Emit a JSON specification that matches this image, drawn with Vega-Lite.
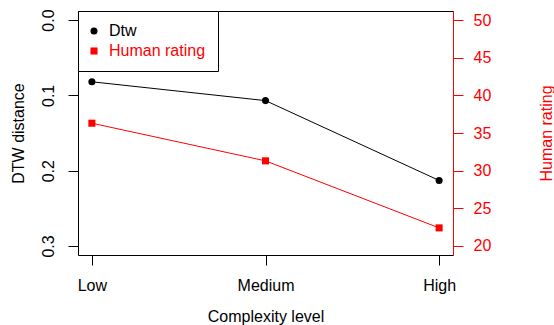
{
  "$schema": "https://vega.github.io/schema/vega-lite/v6.json",
  "width": 375,
  "height": 244,
  "autosize": "none",
  "padding": {"left": 78, "top": 11, "right": 101, "bottom": 70},
  "background": "white",
  "config": {
    "view": {"stroke": "black", "strokeWidth": 1},
    "font": "Liberation Sans",
    "axis": {
      "grid": false,
      "labelFont": "Liberation Sans",
      "titleFont": "Liberation Sans",
      "labelFontSize": 16,
      "titleFontSize": 16,
      "titleFontWeight": "normal",
      "tickSize": 10,
      "tickColor": "black",
      "labelColor": "black",
      "titleColor": "black",
      "domainColor": "black",
      "labelFlush": false,
      "labelOverlap": false,
      "labelBound": false
    },
    "legend": {
      "orient": "none",
      "legendX": 0,
      "legendY": 0,
      "title": null,
      "strokeColor": "black",
      "fillColor": "white",
      "padding": 12,
      "rowPadding": 4,
      "labelFont": "Liberation Sans",
      "labelFontSize": 16,
      "labelOffset": 7,
      "symbolOffset": -4,
      "symbolSize": 50,
      "symbolStrokeWidth": 0
    }
  },
  "data": {
    "values": [
      {"level": "Low", "series": "Dtw", "value": 0.082},
      {"level": "Medium", "series": "Dtw", "value": 0.107},
      {"level": "High", "series": "Dtw", "value": 0.213},
      {"level": "Low", "series": "Human rating", "value": 36.3},
      {"level": "Medium", "series": "Human rating", "value": 31.3},
      {"level": "High", "series": "Human rating", "value": 22.4}
    ]
  },
  "encoding": {
    "x": {
      "field": "level",
      "type": "ordinal",
      "sort": ["Low", "Medium", "High"],
      "scale": {"type": "point", "padding": 0.08},
      "axis": {"title": "Complexity level", "labelAngle": 0, "domain": false, "labelPadding": 12, "titlePadding": 15}
    }
  },
  "layer": [
    {
      "transform": [{"filter": "datum.series === 'Dtw'"}],
      "encoding": {
        "y": {
          "field": "value",
          "type": "quantitative",
          "scale": {"domain": [-0.012, 0.312], "reverse": true, "nice": false, "zero": false},
          "axis": {
            "orient": "left",
            "title": "DTW distance",
            "values": [0, 0.1, 0.2, 0.3],
            "format": ".1f",
            "labelAngle": 270,
            "labelPadding": 12,
            "domain": false,
            "titlePadding": 14
          }
        }
      },
      "layer": [
        {"mark": {"type": "line", "color": "black", "strokeWidth": 1}},
        {
          "mark": {"type": "point", "filled": true, "opacity": 1, "size": 50},
          "encoding": {
            "color": {
              "field": "series",
              "type": "nominal",
              "scale": {"domain": ["Dtw", "Human rating"], "range": ["black", "red"]},
              "legend": {
                "labelColor": {"expr": "datum.value === 'Dtw' ? 'black' : 'red'"}
              }
            },
            "shape": {
              "field": "series",
              "type": "nominal",
              "scale": {"domain": ["Dtw", "Human rating"], "range": ["circle", "square"]},
              "legend": {
                "labelColor": {"expr": "datum.value === 'Dtw' ? 'black' : 'red'"}
              }
            }
          }
        }
      ]
    },
    {
      "transform": [{"filter": "datum.series === 'Human rating'"}],
      "encoding": {
        "y": {
          "field": "value",
          "type": "quantitative",
          "scale": {"domain": [18.8, 51.2], "nice": false, "zero": false},
          "axis": {
            "orient": "right",
            "title": "Human rating",
            "values": [20, 25, 30, 35, 40, 45, 50],
            "labelColor": "red",
            "tickColor": "red",
            "domainColor": "red",
            "titleColor": "red",
            "labelPadding": 10,
            "titleAngle": 270,
            "titlePadding": 64
          }
        }
      },
      "layer": [
        {"mark": {"type": "line", "color": "red", "strokeWidth": 1}},
        {
          "mark": {"type": "point", "filled": true, "opacity": 1, "size": 50},
          "encoding": {
            "color": {
              "field": "series",
              "type": "nominal",
              "scale": {"domain": ["Dtw", "Human rating"], "range": ["black", "red"]},
              "legend": {
                "labelColor": {"expr": "datum.value === 'Dtw' ? 'black' : 'red'"}
              }
            },
            "shape": {
              "field": "series",
              "type": "nominal",
              "scale": {"domain": ["Dtw", "Human rating"], "range": ["circle", "square"]},
              "legend": {
                "labelColor": {"expr": "datum.value === 'Dtw' ? 'black' : 'red'"}
              }
            }
          }
        }
      ]
    }
  ],
  "resolve": {"scale": {"y": "independent"}}
}
